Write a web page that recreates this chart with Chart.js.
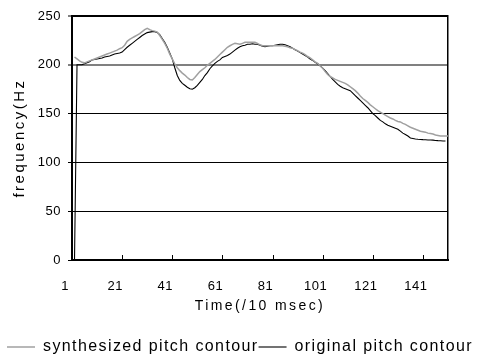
<!DOCTYPE html>
<html>
<head>
<meta charset="utf-8">
<script src="https://cdn.jsdelivr.net/npm/chart.js@4"></script>
<style>
  html, body { margin: 0; padding: 0; background: #fff; }
  #wrap { width: 480px; height: 354px; }
</style>
</head>
<body>
<div id="wrap"><canvas id="pitch-chart"></canvas></div>
<script>
// frame numbers (10 ms steps)
const frames = Array.from({ length: 151 }, (_, i) => i + 1);
const xTickLabels = [1, 21, 41, 61, 81, 101, 121, 141];
const yTickLabels = [0, 50, 100, 150, 200, 250];

// synthesized pitch contour (Hz), frame 1..151
const synthesized = [
    null, 208, 206, 204, 202.5, 202, 203, 204, 205, 206,
    207, 208, 209, 210, 211, 212, 213, 214, 215, 216.5,
    217.5, 220, 224, 226, 227.5, 229, 230.5, 232, 234, 236,
    237.4, 236, 235, 234.5, 233.5, 230, 226, 222, 217, 211,
    206, 201, 197, 194, 191.5, 189.5, 187, 185, 184.5, 187,
    190, 193, 195, 197, 199.5, 201.5, 203.5, 205.5, 208, 210.5,
    213, 215.5, 218, 219.5, 221, 222, 221.5, 221, 222, 223,
    223, 223, 223, 223, 222, 220.5, 219.6, 219.6, 219.6, 219.6,
    219.6, 219.6, 219.6, 219.6, 219.5, 219, 218.5, 217.5, 217, 215.5,
    214.5, 213, 212, 210.5, 208.5, 207, 205, 203, 201.5, 199,
    196.5, 193, 190, 188, 186.5, 185, 184, 183, 182, 181,
    179.5, 177.5, 175.5, 173.5, 171, 168, 165.5, 163.5, 161.5, 159,
    157, 155, 153, 151.5, 150, 148.5, 147, 145.5, 144.5, 143,
    142, 141.5, 140, 139, 137.5, 136, 135, 134, 133, 132,
    131.5, 131, 130, 129.5, 129, 128, 127.5, 127, 127, 127,
    127
];

// original pitch contour (Hz), frame 1..150
const original = [
    0, 0, 200, 200, 200, 201, 202, 203, 205, 205.5,
    206, 206.5, 207, 208, 208.5, 209, 210, 211, 211.5, 212,
    213, 215.5, 218, 220, 222, 224, 226, 228, 230, 231.5,
    233, 233.5, 234, 234, 233, 231, 227, 223, 218, 212,
    206, 197, 189, 184, 181, 179, 177, 175.5, 175, 176.5,
    179, 182, 185, 189, 192, 196, 199, 201.5, 203.5, 205,
    207.5, 208.5, 209.5, 211, 213, 215, 217, 218.5, 219.5, 220,
    221, 221, 221.5, 221, 221, 220, 219, 218.5, 219, 219.5,
    219.5, 220, 220.5, 221, 221, 220.5, 219.5, 218.5, 217, 215.5,
    214, 212.5, 211, 209.5, 208, 206, 204.5, 202.5, 201, 199,
    196.5, 194, 191, 188, 185, 182.5, 180, 178, 176.5, 175.5,
    174.5, 173.5, 171, 168.5, 166, 163.5, 161, 158.5, 156, 153,
    150, 148, 145.5, 143, 141.5, 139.5, 138, 137, 136, 135,
    134, 132, 130, 128.5, 127, 125, 124.5, 124, 123.7, 123.5,
    123.3, 123.2, 123, 123, 122.8, 122.5, 122.3, 122.2, 122, 122
];

const FONT = 'Liberation Sans, Arial, sans-serif';

// spread-out glyphs like the original export; spacing depends on font size
const SPACING = { 13: '0.5px', 14: '2.4px', 15: '2.5px', 16: '1.4px' };

function toPoints(values) {
    return values.map((v, i) => ({ x: frames[i], y: v }));
}

// small tick marks pointing into the plot on the x axis
const innerTicks = {
    id: 'innerTicks',
    afterDatasetsDraw(chart) {
        const ctx = chart.ctx;
        const x = chart.scales.x;
        const bottom = chart.chartArea.bottom;
        ctx.save();
        ctx.strokeStyle = '#000';
        ctx.lineWidth = 1;
        xTickLabels.slice(1).forEach(v => {
            const px = Math.round(x.getPixelForValue(v)) + 0.5;
            ctx.beginPath();
            ctx.moveTo(px, bottom);
            ctx.lineTo(px, bottom - 5);
            ctx.stroke();
        });
        ctx.restore();
    }
};

const canvas = document.getElementById('pitch-chart');
const ctx = canvas.getContext('2d');

const spacingFor = font => {
    const m = /(\d+)px/.exec(font);
    return (m && SPACING[m[1]]) || '0px';
};
const rawFill = ctx.fillText;
const rawMeasure = ctx.measureText;
ctx.fillText = function (...args) {
    this.letterSpacing = spacingFor(this.font);
    return rawFill.apply(this, args);
};
ctx.measureText = function (...args) {
    this.letterSpacing = spacingFor(this.font);
    return rawMeasure.apply(this, args);
};

const chart = new Chart(ctx, {
    type: 'line',
    data: {
        datasets: [
            {
                label: 'synthesized pitch contour',
                data: toPoints(synthesized),
                borderColor: '#a0a0a0',
                backgroundColor: '#a0a0a0',
                borderWidth: 1.5,
                pointRadius: 0,
                tension: 0,
                spanGaps: false
            },
            {
                label: 'original pitch contour',
                data: toPoints(original),
                borderColor: '#000',
                backgroundColor: '#000',
                borderWidth: 1.1,
                pointRadius: 0,
                tension: 0
            }
        ]
    },
    plugins: [innerTicks],
    options: {
        responsive: true,
        maintainAspectRatio: false,
        animation: false,
        // legend sits low, its descenders run off the bottom like the original
        layout: { padding: { left: 0, right: 0, top: 16, bottom: -11 } },
        plugins: {
            tooltip: { enabled: false },
            legend: {
                position: 'bottom',
                labels: {
                    color: '#000',
                    font: { family: FONT, size: 16 },
                    usePointStyle: true,
                    pointStyle: 'line',
                    pointStyleWidth: 28,
                    boxHeight: 10,
                    padding: 0
                }
            }
        },
        scales: {
            x: {
                type: 'linear',
                min: 1,
                max: 151,
                afterBuildTicks: scale => {
                    scale.ticks = xTickLabels.map(v => ({ value: v }));
                },
                afterFit: scale => { scale.height = 79; },
                ticks: {
                    color: '#000',
                    font: { family: FONT, size: 13 },
                    padding: 19,
                    labelOffset: -7,
                    maxRotation: 0,
                    autoSkip: false
                },
                grid: { drawOnChartArea: false, drawTicks: false },
                border: { color: '#000', width: 2 },
                title: {
                    display: true,
                    text: 'Time(/10 msec)',
                    color: '#000',
                    font: { family: FONT, size: 14 },
                    padding: { top: 0, bottom: 24 }
                }
            },
            y: {
                min: 0,
                max: 250,
                afterBuildTicks: scale => {
                    scale.ticks = yTickLabels.map(v => ({ value: v }));
                },
                afterFit: scale => { scale.width = 72; },
                ticks: {
                    color: '#000',
                    font: { family: FONT, size: 13 },
                    padding: 7
                },
                grid: {
                    color: c => (c.tick && c.tick.value === 200) ? '#808080' : '#000',
                    lineWidth: c => {
                        if (!c.tick) return 1;
                        if (c.tick.value === 250) return 2;
                        if (c.tick.value === 200) return 2;
                        return 1;
                    },
                    tickLength: 4,
                    tickColor: '#000',
                    tickWidth: 1
                },
                border: { color: '#000', width: 2 },
                title: {
                    display: true,
                    text: 'frequency(Hz',
                    color: '#000',
                    font: { family: FONT, size: 15 },
                    padding: { top: 11, bottom: 0 }
                }
            },
            y2: {
                position: 'right',
                min: 0,
                max: 250,
                afterFit: scale => { scale.width = 32; },
                ticks: { display: false },
                grid: { drawOnChartArea: false, drawTicks: false },
                border: { color: '#000', width: 1.5 }
            }
        }
    }
});
</script>
</body>
</html>
